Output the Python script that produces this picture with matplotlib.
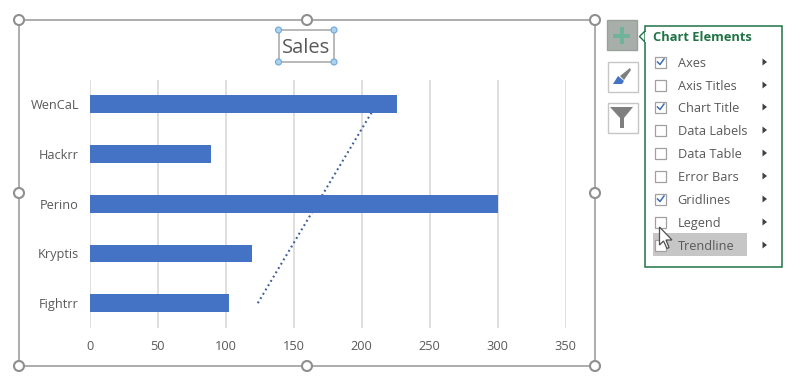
import matplotlib
matplotlib.use("Agg")
import matplotlib.pyplot as plt
from matplotlib.patches import Rectangle, Circle, Polygon

plt.rcParams['font.family'] = ['Open Sans', 'DejaVu Sans']

categories = ['Fightrr', 'Kryptis', 'Perino', 'Hackrr', 'WenCaL']
sales = [102, 119, 300, 89, 226]
x_ticks = [0, 50, 100, 150, 200, 250, 300, 350]
trend_x = [123.5, 208]
trend_y = [0.0, 3.87]
title = 'Sales'
menu_items = ['Axes', 'Axis Titles', 'Chart Title', 'Data Labels', 'Data Table',
              'Error Bars', 'Gridlines', 'Legend', 'Trendline']
menu_checked = [True, False, True, False, False, False, True, False, False]

W, H = 800, 390
TXT = '#595959'
BLUE = '#4472C4'
GREEN = '#217346'

fig = plt.figure(figsize=(W / 100, H / 100), dpi=100, facecolor='white')

# Overlay for the Excel interface, in pixel coordinates
ui = fig.add_axes([0, 0, 1, 1], zorder=0)
ui.set_xlim(0, W)
ui.set_ylim(H, 0)
ui.axis('off')

# Chart area
ui.add_patch(Rectangle((19, 20), 576, 346, fc='white', ec='#a6a6a6', lw=1.3))

# Plot
ax = fig.add_axes([90 / W, 1 - 328 / H, (565.5 - 90) / W, (328 - 79.5) / H], zorder=1)
ax.patch.set_alpha(0)
ax.barh(range(len(categories)), sales, height=0.36, color=BLUE, linewidth=0, zorder=3)
ax.plot(trend_x, trend_y, color='#3f5f96', lw=1.5, ls=(0, (0.9, 1.5)), zorder=2)
ax.set_xlim(0, 350)
ax.set_ylim(-0.5, 4.5)
ax.set_xticks(x_ticks)
ax.set_yticks(range(len(categories)), categories)
ax.grid(axis='x', color='#d9d9d9', lw=1.2, zorder=0)
ax.set_axisbelow(True)
ax.tick_params(length=0, labelsize=9.2, labelcolor=TXT)
ax.tick_params(axis='x', pad=9)
ax.tick_params(axis='y', pad=8)
for s in ax.spines.values():
    s.set_visible(False)

# Top overlay
top = fig.add_axes([0, 0, 1, 1], zorder=2)
top.set_xlim(0, W)
top.set_ylim(H, 0)
top.axis('off')
top.patch.set_alpha(0)

# Chart handles
for (cx, cy) in [(19, 20), (307, 20), (595, 20), (19, 193), (595, 193),
                 (19, 366), (307, 366), (595, 366)]:
    top.add_patch(Circle((cx, cy), 5, fc='white', ec='#8f8f8f', lw=1.5, zorder=5))

# Title box
top.add_patch(Rectangle((278.5, 30), 55.5, 32, fc='white', ec='#a6a6a6', lw=1.1))
top.text(306.5, 48, title, fontsize=14.5, color=TXT, ha='center', va='center')
for (cx, cy) in [(278.5, 30), (334, 30), (278.5, 62), (334, 62)]:
    top.add_patch(Circle((cx, cy), 3, fc='#a9d3f0', ec='#6fa8d8', lw=0.8, zorder=5))

# Side buttons
top.add_patch(Rectangle((607, 20), 30, 30, fc='#a8aeaa', ec='#9aa09c', lw=1))
top.add_patch(Rectangle((619.5, 27), 4, 17, fc='#6fb39a', ec='none'))
top.add_patch(Rectangle((613, 33.5), 17, 4, fc='#6fb39a', ec='none'))
top.add_patch(Rectangle((607.5, 61.5), 30, 30, fc='white', ec='#c6c6c6', lw=1))
top.add_patch(Polygon([(620, 76), (630, 68), (631, 70), (624, 80)], fc='#7f7f7f', ec='none'))
top.add_patch(Polygon([(613, 84), (618, 76), (624, 81), (622, 84)], fc='#4472c4', ec='none'))
top.add_patch(Rectangle((607.5, 102.5), 30, 30, fc='white', ec='#c6c6c6', lw=1))
top.add_patch(Polygon([(610, 107), (633, 107), (624, 118), (624, 128), (620, 128), (620, 118)],
                      fc='#7f7f7f', ec='none'))

# Panel
top.add_patch(Rectangle((644.5, 25.5), 137.5, 241, fc='white', ec=GREEN, lw=1.1))
top.add_patch(Polygon([(645, 31), (639.5, 36.5), (645, 42)], fc='white', ec=GREEN, lw=1, zorder=3))
top.add_patch(Rectangle((644.6, 31.5), 1.5, 10, fc='white', ec='none', zorder=4))
top.text(653, 37.5, 'Chart Elements', fontsize=9.3, fontweight='bold', color=GREEN, va='center')
top.add_patch(Rectangle((653, 233), 94, 23, fc='#c6c6c6', ec='none'))

row_y = [62, 85, 107, 130, 153, 176, 199, 222, 245]
for label, checked, y in zip(menu_items, menu_checked, row_y):
    top.add_patch(Rectangle((655, y - 5.5), 11, 11, fc='white', ec='#a0a0a0', lw=0.9, zorder=3))
    if checked:
        top.plot([657.5, 660, 664], [y, y + 2.5, y - 3], color='#3f6fb5', lw=1.1, zorder=4)
    top.text(677.5, y + 1.5, label, fontsize=9.2, color=TXT, va='center', zorder=4)
    top.add_patch(Polygon([(762.5, y - 3.5), (767, y), (762.5, y + 3.5)], fc='#404040', ec='none'))

# Cursor
top.add_patch(Polygon([(659.5, 227), (659.5, 245), (663.5, 241), (667, 248.5), (669, 247.5),
                       (666, 240), (672, 240)], fc='white', ec='#505050', lw=0.9, zorder=6))

fig.savefig('out.png', dpi=100)
